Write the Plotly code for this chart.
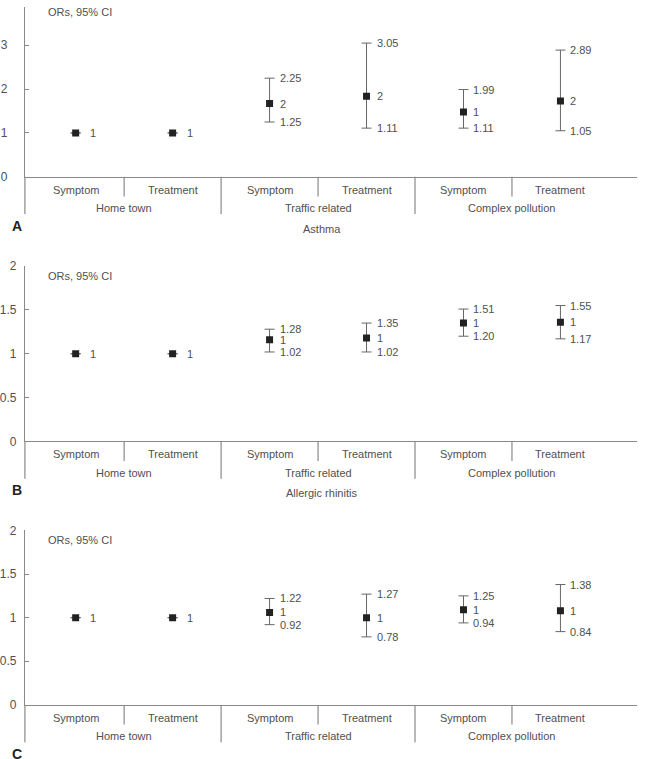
import plotly.graph_objects as go

W, H = 645, 759
FONT = "Liberation Sans, Arial, sans-serif"
FS = 11
TXT = "#505050"
LINE = "#8a8a8a"

groups = ["Home town", "Traffic related", "Complex pollution"]
subcats = ["Symptom", "Treatment", "Symptom", "Treatment", "Symptom", "Treatment"]
panel_letters = ["A", "B", "C"]
panel_titles = ["Asthma", "Allergic rhinitis", ""]

# Panel A - Asthma
asthma_or = [1, 1, 1.67, 1.84, 1.48, 1.73]
asthma_lo = [1, 1, 1.25, 1.11, 1.11, 1.05]
asthma_hi = [1, 1, 2.25, 3.05, 1.99, 2.89]
asthma_mid_lbl = ["1", "1", "2", "2", "1", "2"]
asthma_lo_lbl = ["", "", "1.25", "1.11", "1.11", "1.05"]
asthma_hi_lbl = ["", "", "2.25", "3.05", "1.99", "2.89"]

# Panel B - Allergic rhinitis
rhin_or = [1, 1, 1.16, 1.18, 1.35, 1.36]
rhin_lo = [1, 1, 1.02, 1.02, 1.20, 1.17]
rhin_hi = [1, 1, 1.28, 1.35, 1.51, 1.55]
rhin_mid_lbl = ["1", "1", "1", "1", "1", "1"]
rhin_lo_lbl = ["", "", "1.02", "1.02", "1.20", "1.17"]
rhin_hi_lbl = ["", "", "1.28", "1.35", "1.51", "1.55"]

# Panel C
derm_or = [1, 1, 1.06, 1.00, 1.09, 1.08]
derm_lo = [1, 1, 0.92, 0.78, 0.94, 0.84]
derm_hi = [1, 1, 1.22, 1.27, 1.25, 1.38]
derm_mid_lbl = ["1", "1", "1", "1", "1", "1"]
derm_lo_lbl = ["", "", "0.92", "0.78", "0.94", "0.84"]
derm_hi_lbl = ["", "", "1.22", "1.27", "1.25", "1.38"]

yticks_a = [0, 1, 2, 3]
yticks_bc = [0, 0.5, 1, 1.5, 2]

panels = [
    dict(or_=asthma_or, lo=asthma_lo, hi=asthma_hi, mid=asthma_mid_lbl, lol=asthma_lo_lbl, hil=asthma_hi_lbl,
         ticks=yticks_a, ymax=3.873, bottom=173, top=0, ors_y=5, standoff=14),
    dict(or_=rhin_or, lo=rhin_lo, hi=rhin_hi, mid=rhin_mid_lbl, lol=rhin_lo_lbl, hil=rhin_hi_lbl,
         ticks=yticks_bc, ymax=2, bottom=442.5, top=264, ors_y=274, standoff=5),
    dict(or_=derm_or, lo=derm_lo, hi=derm_hi, mid=derm_mid_lbl, lol=derm_lo_lbl, hil=derm_hi_lbl,
         ticks=yticks_bc, ymax=2, bottom=711, top=533.3, ors_y=543, standoff=5),
]

def py(p):
    return 1 - p / H

def px(p):
    return p / W

X_LEFT, X_RIGHT = 22, 637
XR = [-0.5236, 5.790]

fig = go.Figure()
annotations = []
shapes = []
xs = list(range(len(subcats)))

def txt(**kw):
    d = dict(showarrow=False, font=dict(family=FONT, size=FS, color=TXT))
    d.update(kw)
    return d

for k, p in enumerate(panels):
    sfx = "" if k == 0 else str(k + 1)
    xa, ya = "x" + sfx, "y" + sfx
    plus = [h - o for h, o in zip(p["hi"], p["or_"])]
    minus = [o - l for o, l in zip(p["or_"], p["lo"])]
    fig.add_trace(go.Scatter(
        x=xs, y=p["or_"], mode="markers", xaxis=xa, yaxis=ya, showlegend=False,
        marker=dict(symbol="square", size=7, color="#222222"),
        error_y=dict(type="data", array=plus, arrayminus=minus, symmetric=False,
                     color="#666666", thickness=1, width=5),
    ))
    fig.update_layout(**{
        ("xaxis" + sfx): dict(domain=[px(X_LEFT), px(X_RIGHT)], range=XR, anchor=ya,
                              showline=True, linecolor=LINE, linewidth=1.2, showgrid=False,
                              zeroline=False, showticklabels=False, ticks=""),
        ("yaxis" + sfx): dict(domain=[py(p["bottom"]), py(p["top"])], range=[0, p["ymax"]], anchor=xa,
                              showline=True, linecolor=LINE, linewidth=1.2, showgrid=False, zeroline=False,
                              ticks="inside", ticklen=4, tickcolor=LINE, tickvals=p["ticks"],
                              ticktext=[str(t) for t in p["ticks"]], ticklabelstandoff=p["standoff"],
                              tickfont=dict(family=FONT, size=12, color=TXT)),
    })
    for i in xs:
        single = p["hi"][i] == p["lo"][i]
        shift = 12 if single else 8
        annotations.append(txt(x=i, y=p["or_"][i], xref=xa, yref=ya, text=p["mid"][i],
                               xanchor="left", yanchor="middle", xshift=shift))
        if p["hil"][i]:
            annotations.append(txt(x=i, y=p["hi"][i], xref=xa, yref=ya, text=p["hil"][i],
                                   xanchor="left", yanchor="middle", xshift=8))
        if p["lol"][i]:
            annotations.append(txt(x=i, y=p["lo"][i], xref=xa, yref=ya, text=p["lol"][i],
                                   xanchor="left", yanchor="middle", xshift=8))
    b = p["bottom"]
    annotations.append(txt(x=px(43), y=py(p["ors_y"]), xref="paper", yref="paper",
                           text="ORs, 95% CI", xanchor="left", yanchor="middle"))
    for i, s in enumerate(subcats):
        annotations.append(txt(x=i, y=py(b + 13), xref=xa, yref="paper", text=s,
                               xanchor="center", yanchor="middle"))
    for g, name in enumerate(groups):
        annotations.append(txt(x=2 * g + 0.5, y=py(b + 32), xref=xa, yref="paper", text=name,
                               xanchor="center", yanchor="middle"))
    for d in [0.5, 2.5, 4.5]:
        shapes.append(dict(type="line", xref=xa, yref="paper", x0=d, x1=d, y0=py(b), y1=py(b + 20),
                           line=dict(color=LINE, width=1.2)))
    for d in [1.5, 3.5]:
        shapes.append(dict(type="line", xref=xa, yref="paper", x0=d, x1=d, y0=py(b), y1=py(b + 38),
                           line=dict(color=LINE, width=1.2)))
    shapes.append(dict(type="line", xref="paper", yref="paper", x0=px(X_LEFT), x1=px(X_LEFT),
                       y0=py(b), y1=py(b + 38), line=dict(color=LINE, width=1.2)))
    annotations.append(dict(x=px(7), y=py(b + 50), xref="paper", yref="paper", text="<b>" + panel_letters[k] + "</b>",
                            showarrow=False, xanchor="left", yanchor="middle",
                            font=dict(family=FONT, size=14, color="#222222")))
    if panel_titles[k]:
        annotations.append(txt(x=px(320), y=py(b + 53), xref="paper", yref="paper", text=panel_titles[k],
                               xanchor="center", yanchor="middle"))

fig.update_layout(
    width=W, height=H, margin=dict(l=0, r=0, t=0, b=0),
    paper_bgcolor="white", plot_bgcolor="white",
    annotations=annotations, shapes=shapes,
)

fig.write_html("out.html")
